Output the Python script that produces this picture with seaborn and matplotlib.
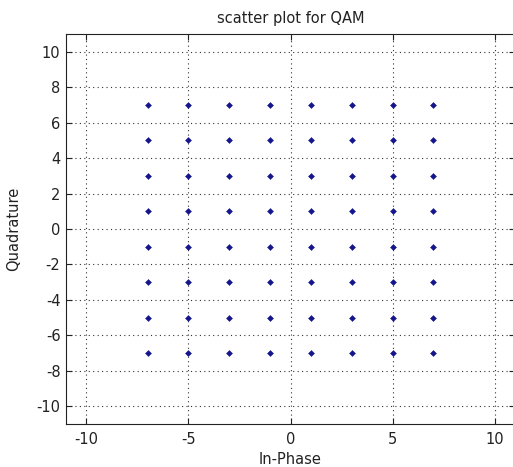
import numpy as np
import pandas as pd
import matplotlib
matplotlib.use("Agg")
import matplotlib.pyplot as plt
import seaborn as sns

levels = [-7, -5, -3, -1, 1, 3, 5, 7]
in_phase = [i for i in levels for q in levels]
quadrature = [q for i in levels for q in levels]
xticks = [-10, -5, 0, 5, 10]
yticks = [-10, -8, -6, -4, -2, 0, 2, 4, 6, 8, 10]

df = pd.DataFrame({"In-Phase": in_phase, "Quadrature": quadrature})

sns.set_style("white")
plt.rcParams['font.family'] = ['DejaVu Sans']
plt.rcParams['axes.unicode_minus'] = False

fig = plt.figure(figsize=(5.13, 4.67), dpi=100)
ax = fig.add_axes([66/513, 43/467, 449/513, 390/467])
sns.scatterplot(data=df, x="In-Phase", y="Quadrature", ax=ax, marker="D",
                s=9, color="#16168c", edgecolor="#16168c", linewidth=0.4)
ax.set_xlim(-11, 11)
ax.set_ylim(-11, 11)
ax.set_xticks(xticks)
ax.set_yticks(yticks)
ax.tick_params(direction="in", length=4, width=0.8, labelsize=10.5, colors="#222222",
               top=True, right=True, bottom=True, left=True)
ax.tick_params(axis="x", pad=6)
ax.tick_params(axis="y", pad=4)
ax.grid(True, linestyle=(0, (1, 3)), color="#333333", linewidth=0.8)
for s in ax.spines.values():
    s.set_color("#222222")
    s.set_linewidth(0.8)
ax.set_xlabel("In-Phase", fontsize=10.5, color="#222222", labelpad=3)
ax.set_ylabel("Quadrature", fontsize=10.5, color="#222222")
ax.yaxis.set_label_coords(-0.100, 0.5)
ax.set_title("scatter plot for QAM", fontsize=10.5, color="#222222", pad=8)
fig.savefig("out.png", dpi=100)
